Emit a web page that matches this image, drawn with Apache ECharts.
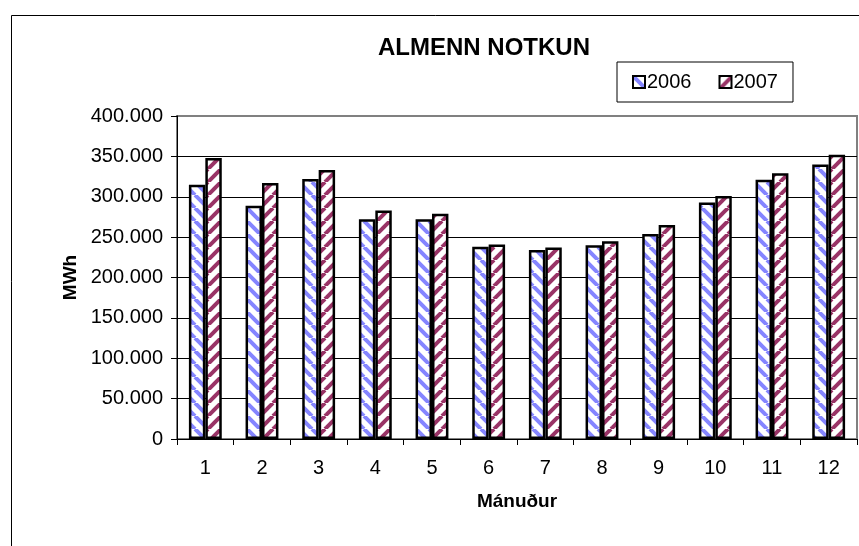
<!DOCTYPE html>
<html>
<head>
<meta charset="utf-8">
<script src="https://cdn.jsdelivr.net/npm/echarts@6/dist/echarts.min.js"></script>
<style>
html,body{margin:0;padding:0;background:#fff;}
#chart{width:859px;height:546px;}
</style>
</head>
<body>
<div id="chart"></div>
<script>
// ---- data ----
const categories = ['1','2','3','4','5','6','7','8','9','10','11','12'];
const seriesNames = ['2006','2007'];
const values2006 = [315000, 289000, 322000, 272000, 272000, 238000, 234000, 240000, 254000, 293000, 321000, 340000];
const values2007 = [348000, 317000, 333000, 283000, 279000, 241000, 237000, 245000, 265000, 301000, 329000, 352000];
const yMin = 0, yMax = 400000, yStep = 50000;
const titleText = 'ALMENN NOTKUN';
const xAxisName = 'Mánuður';
const yAxisName = 'MWh';

function fmt(v){ return String(v).replace(/\B(?=(\d{3})+(?!\d))/g, '.'); }

function makePattern(color, dir){
  const s = 13;
  const c = document.createElement('canvas');
  c.width = s; c.height = s;
  const ctx = c.getContext('2d');
  ctx.fillStyle = '#ffffff';
  ctx.fillRect(0,0,s,s);
  ctx.strokeStyle = color;
  ctx.lineWidth = 4;
  for (let k = -1; k <= 1; k++){
    ctx.beginPath();
    if (dir > 0){ ctx.moveTo(k*s, 0); ctx.lineTo(k*s + s, s); }
    else { ctx.moveTo(k*s + s, 0); ctx.lineTo(k*s, s); }
    ctx.stroke();
  }
  return {image: c, repeat: 'repeat'};
}

const font = 'Liberation Sans, Arial, sans-serif';
const chart = echarts.init(document.getElementById('chart'), null, {renderer:'canvas'});
chart.setOption({
  animation: false,
  backgroundColor: '#ffffff',
  graphic: [{
    type: 'rect', silent: true, z: -10,
    shape: {x: 11.5, y: 15.5, width: 1200, height: 1200},
    style: {fill: 'none', stroke: '#000', lineWidth: 1}
  }],
  title: {
    text: titleText, left: 378, top: 36, padding: 0,
    textStyle: {fontFamily: font, fontSize: 24, fontWeight: 'bold', color: '#000'}
  },
  legend: {
    left: 617, top: 62, padding: [10, 15],
    borderColor: '#000', borderWidth: 1,
    itemWidth: 12, itemHeight: 12, itemGap: 27,
    icon: 'rect',
    textStyle: {fontFamily: font, fontSize: 20, color: '#000', padding: [0,0,0,-3]},
    data: seriesNames
  },
  grid: {
    left: 177, right: 2, top: 116, bottom: 107,
    show: true, borderColor: '#808080', borderWidth: 2, backgroundColor: '#fff'
  },
  xAxis: {
    type: 'category', data: categories,
    name: xAxisName, nameLocation: 'middle', nameGap: 53,
    nameTextStyle: {fontFamily: font, fontSize: 19, fontWeight: 'bold', color: '#000'},
    axisLine: {show: true, lineStyle: {color: '#000', width: 1}},
    axisTick: {show: true, length: 6, lineStyle: {color: '#000'}},
    axisLabel: {fontFamily: font, fontSize: 20, color: '#000', margin: 19}
  },
  yAxis: {
    type: 'value', min: yMin, max: yMax, interval: yStep,
    name: yAxisName, nameLocation: 'middle', nameGap: 97,
    nameTextStyle: {fontFamily: font, fontSize: 19, fontWeight: 'bold', color: '#000'},
    axisLine: {show: true, lineStyle: {color: '#000', width: 1}},
    axisTick: {show: true, length: 6, lineStyle: {color: '#000'}},
    axisLabel: {fontFamily: font, fontSize: 20, color: '#000', margin: 14, formatter: fmt},
    splitLine: {show: true, showMaxLine: false, lineStyle: {color: '#000', width: 1}}
  },
  series: [{
    name: seriesNames[0], type: 'bar', data: values2006,
    barGap: '0%', barCategoryGap: '42%',
    itemStyle: {color: makePattern('#8585ff', 1), borderColor: '#000', borderWidth: 2.5}
  },{
    name: seriesNames[1], type: 'bar', data: values2007,
    barGap: '0%', barCategoryGap: '42%',
    itemStyle: {color: makePattern('#993366', -1), borderColor: '#000', borderWidth: 2.5}
  }]
});
</script>
</body>
</html>
